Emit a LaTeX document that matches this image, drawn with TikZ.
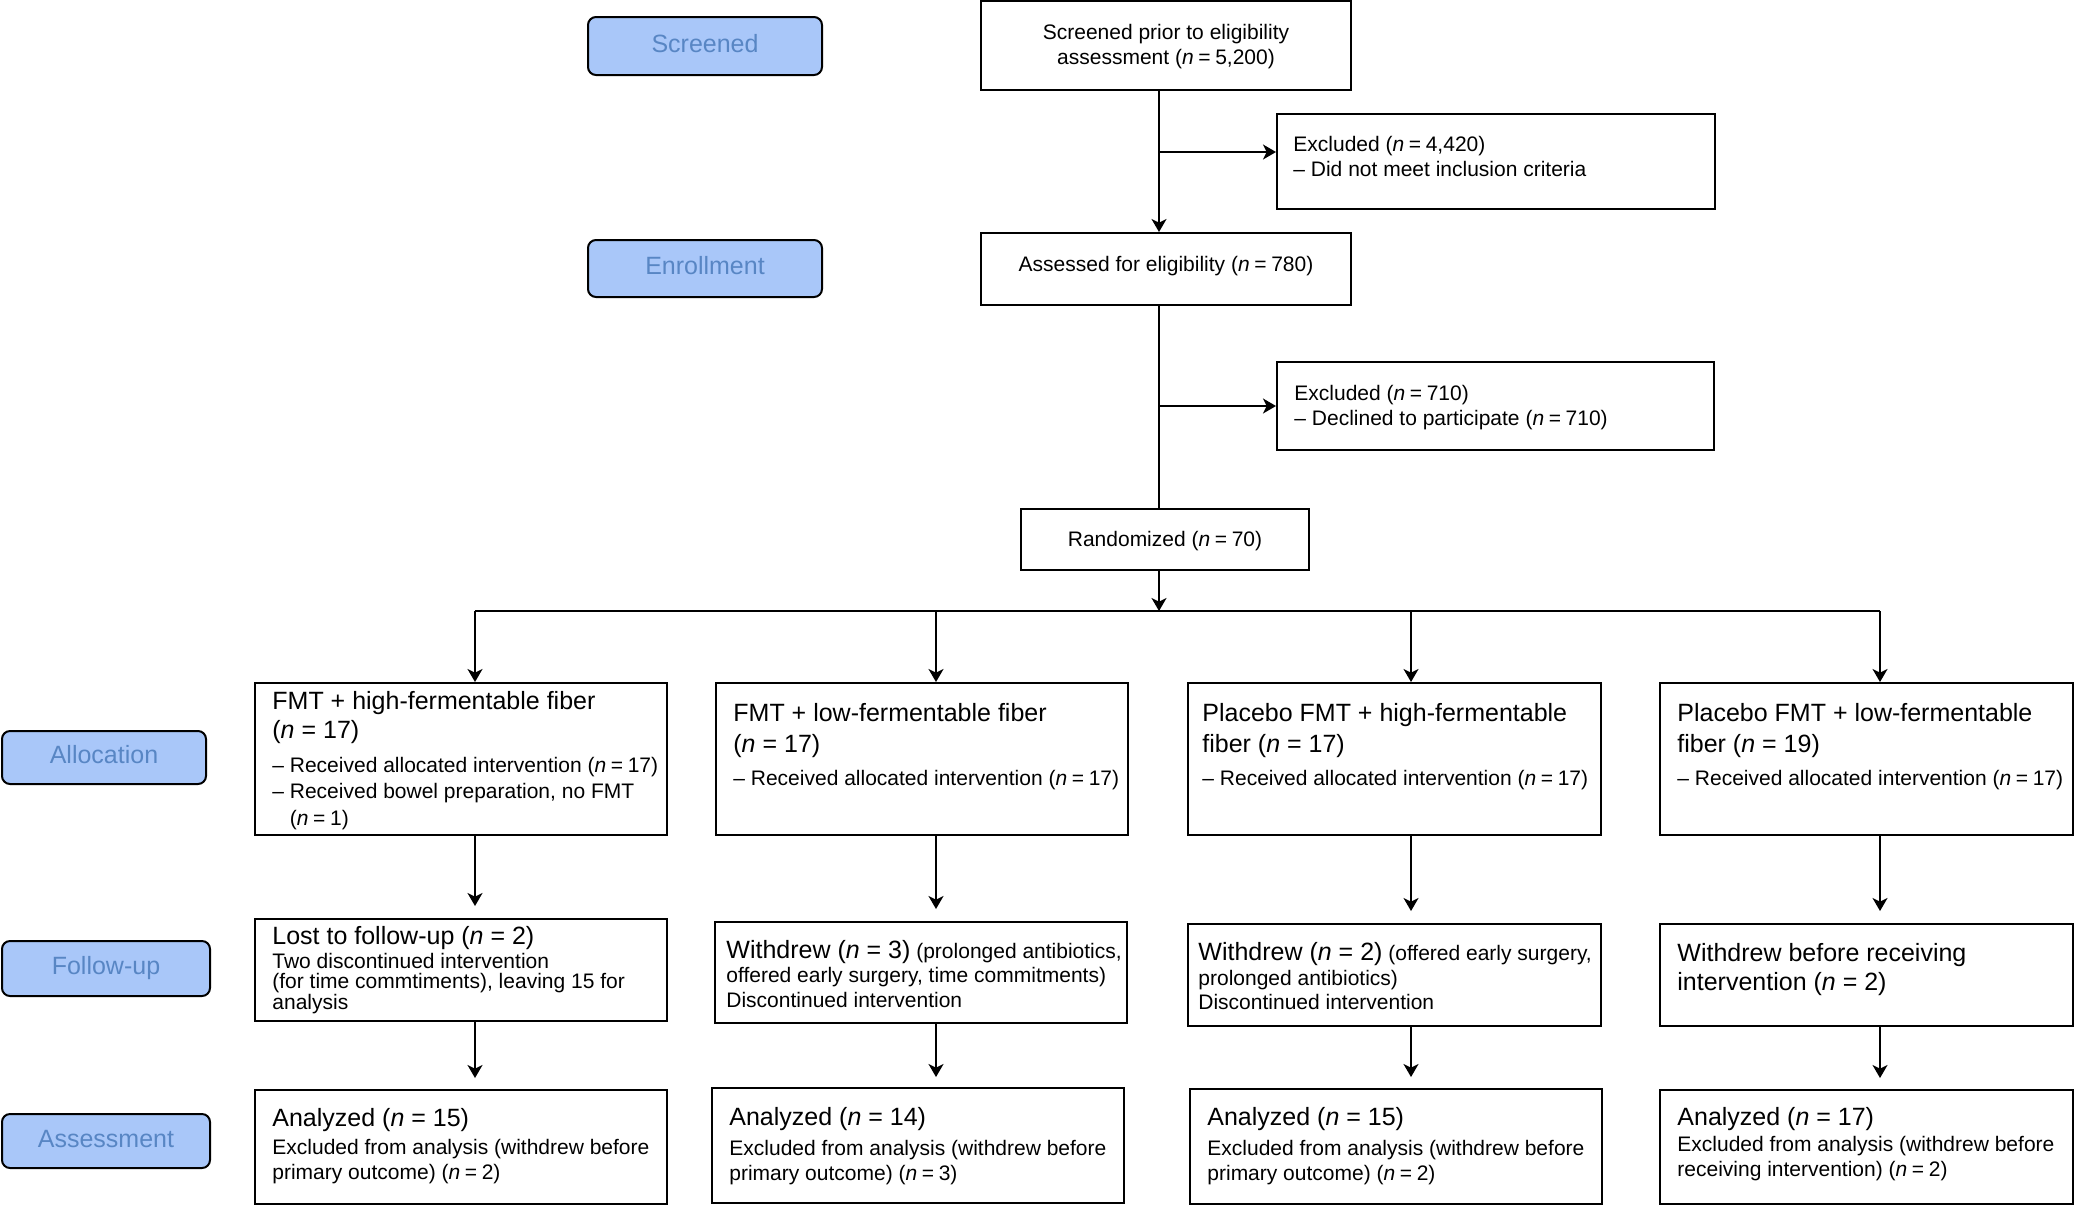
\documentclass[tikz,border=0pt]{standalone}
\usepackage{fontspec}
\setmainfont{Liberation Sans}
\usetikzlibrary{arrows.meta,fit}
\definecolor{pillfill}{RGB}{169,199,249}
\definecolor{pilltext}{RGB}{88,134,196}
\newcommand{\nv}{\textit{n}}
\newcommand{\eqs}{\hskip0.22em=\hskip0.22em}
\newcommand{\fL}[1]{\fontsize{12.5}{#1}\selectfont\lineskiplimit=-50pt\relax}
\newcommand{\fS}[1]{\fontsize{10.5}{#1}\selectfont\lineskiplimit=-50pt\relax}
\newcommand{\rw}[1]{\hbox{#1}}
\begin{document}
\begin{tikzpicture}[x=0.5pt,y=-0.5pt,
  box/.style={draw=black,line width=1pt,inner sep=0pt,rectangle},
  pill/.style={draw=black,line width=1pt,fill=pillfill,rounded corners=4pt,inner sep=0pt},
  ptxt/.style={anchor=base,inner sep=0pt,text=pilltext,font=\fL{15},yshift=-3pt},
  txt/.style={anchor=base west,inner sep=0pt},
  ctxt/.style={anchor=base,inner sep=0pt,font=\fS{12.5}},
  conn/.style={line width=0.8pt},
  arr/.style={conn,-{Stealth[length=6.5pt,width=7.5pt,inset=1.8pt]}}]
\useasboundingbox (0,0) rectangle (2075,1206);

% phase pills
\node[pill,fit={(588,17) (822,75)}] (pscr) {};
\node[pill,fit={(588,240) (822,297)}] (penr) {};
\node[pill,fit={(2,731) (206,784)}] (palloc) {};
\node[pill,fit={(2,941) (210,996)}] (pfol) {};
\node[pill,fit={(2,1114) (210,1168)}] (pass) {};
\node[ptxt] (pscrt) at (pscr.center) {Screened};
\node[ptxt] (penrt) at (penr.center) {Enrollment};
\node[ptxt] (palloct) at (palloc.center) {Allocation};
\node[ptxt] (pfolt) at (pfol.center) {Follow-up};
\node[ptxt] (passt) at (pass.center) {Assessment};

% top boxes
\node[box,fit={(981,1) (1351,90)}] (scr) {};
\node[box,fit={(1277,114) (1715,209)}] (exc1) {};
\node[box,fit={(981,233) (1351,305)}] (ass) {};
\node[box,fit={(1277,362) (1714,450)}] (exc2) {};
\node[box,fit={(1021,509) (1309,570)}] (rnd) {};

% allocation row
\node[box,fit={(255,683) (667,835)}] (a1) {};
\node[box,fit={(716,683) (1128,835)}] (a2) {};
\node[box,fit={(1188,683) (1601,835)}] (a3) {};
\node[box,fit={(1660,683) (2073,835)}] (a4) {};
% follow-up row
\node[box,fit={(255,919) (667,1021)}] (f1) {};
\node[box,fit={(715,922) (1127,1023)}] (f2) {};
\node[box,fit={(1188,924) (1601,1026)}] (f3) {};
\node[box,fit={(1660,924) (2073,1026)}] (f4) {};
% assessment row
\node[box,fit={(255,1090) (667,1204)}] (s1) {};
\node[box,fit={(712,1088) (1124,1203)}] (s2) {};
\node[box,fit={(1190,1089) (1602,1204)}] (s3) {};
\node[box,fit={(1660,1090) (2073,1204)}] (s4) {};

% texts: top
\node[ctxt] (scrt1) at (1166,39.5) {Screened prior to eligibility};
\node[ctxt] (scrt2) at (1166,64.5) {assessment (\nv{}\eqs 5,200)};
\node[ctxt] (asst) at (1166,271.5) {Assessed for eligibility (\nv{}\eqs 780)};
\node[ctxt] (rndt) at (1165,546) {Randomized (\nv{}\eqs 70)};
\node[txt] (exc1t) at (1293,151.5) {\vtop{\fS{12.25}\rw{Excluded (\nv{}\eqs 4,420)}\rw{-- Did not meet inclusion criteria}}};
\node[txt] (exc2t) at (1294,400) {\vtop{\fS{12.75}\rw{Excluded (\nv{}\eqs 710)}\rw{-- Declined to participate (\nv{}\eqs 710)}}};

% texts: allocation
\node[txt] (a1h) at (272,709) {\vtop{\fL{14.75}\rw{FMT + high-fermentable fiber}\rw{(\nv{} = 17)}}};
\node[txt] (a1b) at (272,772) {\vtop{\fS{13.25}\rw{-- Received allocated intervention (\nv{}\eqs 17)}\rw{-- Received bowel preparation, no FMT}\rw{\phantom{-- }(\nv{}\eqs 1)}}};
\node[txt] (a2h) at (733,721.5) {\vtop{\fL{15.25}\rw{FMT + low-fermentable fiber}\rw{(\nv{} = 17)}}};
\node[txt] (a2b) at (733,785) {\fS{13}-- Received allocated intervention (\nv{}\eqs 17)};
\node[txt] (a3h) at (1202,721.5) {\vtop{\fL{15.25}\rw{Placebo FMT + high-fermentable}\rw{fiber (\nv{} = 17)}}};
\node[txt] (a3b) at (1202,785) {\fS{13}-- Received allocated intervention (\nv{}\eqs 17)};
\node[txt] (a4h) at (1677,721.5) {\vtop{\fL{15.25}\rw{Placebo FMT + low-fermentable}\rw{fiber (\nv{} = 19)}}};
\node[txt] (a4b) at (1677,785) {\fS{13}-- Received allocated intervention (\nv{}\eqs 17)};

% texts: follow-up
\node[txt] (f1h) at (272,944) {\fL{15}Lost to follow-up (\nv{} = 2)};
\node[txt] (f1b) at (272,968) {\vtop{\fS{10.4}\rw{Two discontinued intervention}\rw{(for time commtiments), leaving 15 for}\rw{analysis}}};
\node[txt] (f2t) at (726,958) {\vtop{\fS{12.4}\rw{{\fL{15}Withdrew (\nv{} = 3)} (prolonged antibiotics,}\rw{offered early surgery, time commitments)}\rw{Discontinued intervention}}};
\node[txt] (f3t) at (1198,960.5) {\vtop{\fS{12.25}\rw{{\fL{15}Withdrew (\nv{} = 2)} (offered early surgery,}\rw{prolonged antibiotics)}\rw{Discontinued intervention}}};
\node[txt] (f4t) at (1677,961) {\vtop{\fL{14.75}\rw{Withdrew before receiving}\rw{intervention (\nv{} = 2)}}};

% texts: assessment
\node[txt] (s1h) at (272,1126) {\fL{15}Analyzed (\nv{} = 15)};
\node[txt] (s1b) at (272,1154.5) {\vtop{\fS{12.5}\rw{Excluded from analysis (withdrew before}\rw{primary outcome) (\nv{}\eqs 2)}}};
\node[txt] (s2h) at (729,1125) {\fL{15}Analyzed (\nv{} = 14)};
\node[txt] (s2b) at (729,1155) {\vtop{\fS{12.5}\rw{Excluded from analysis (withdrew before}\rw{primary outcome) (\nv{}\eqs 3)}}};
\node[txt] (s3h) at (1207,1125) {\fL{15}Analyzed (\nv{} = 15)};
\node[txt] (s3b) at (1207,1155) {\vtop{\fS{12.5}\rw{Excluded from analysis (withdrew before}\rw{primary outcome) (\nv{}\eqs 2)}}};
\node[txt] (s4h) at (1677,1125) {\fL{15}Analyzed (\nv{} = 17)};
\node[txt] (s4b) at (1677,1151) {\vtop{\fS{12.75}\rw{Excluded from analysis (withdrew before}\rw{receiving intervention) (\nv{}\eqs 2)}}};

% connectors
\coordinate (tk) at (1159,0);
\coordinate (br1) at (1159,152);
\coordinate (br2) at (1159,406);
\coordinate (hub) at (1159,611);
\coordinate (c1) at (475,611);
\coordinate (c2) at (936,611);
\coordinate (c3) at (1411,611);
\coordinate (c4) at (1880,611);

\draw[arr] (scr.south -| tk) -- (ass.north -| tk);
\draw[arr] (br1) -- (br1 -| exc1.west);
\draw[conn] (ass.south -| tk) -- (rnd.north -| tk);
\draw[arr] (br2) -- (br2 -| exc2.west);
\draw[arr] (rnd.south -| tk) -- (hub);
\draw[conn] (c1) -- (c4);

\draw[arr] (c1) -- (a1.north -| c1);
\draw[arr] (c2) -- (a2.north -| c2);
\draw[arr] (c3) -- (a3.north -| c3);
\draw[arr] (c4) -- (a4.north -| c4);

\draw[arr,shorten >=6pt] (a1.south -| c1) -- (f1.north -| c1);
\draw[arr,shorten >=6pt] (a2.south -| c2) -- (f2.north -| c2);
\draw[arr,shorten >=6pt] (a3.south -| c3) -- (f3.north -| c3);
\draw[arr,shorten >=6pt] (a4.south -| c4) -- (f4.north -| c4);

\draw[arr,shorten >=5.5pt] (f1.south -| c1) -- (s1.north -| c1);
\draw[arr,shorten >=5pt] (f2.south -| c2) -- (s2.north -| c2);
\draw[arr,shorten >=5.5pt] (f3.south -| c3) -- (s3.north -| c3);
\draw[arr,shorten >=5.5pt] (f4.south -| c4) -- (s4.north -| c4);
\end{tikzpicture}
\end{document}
